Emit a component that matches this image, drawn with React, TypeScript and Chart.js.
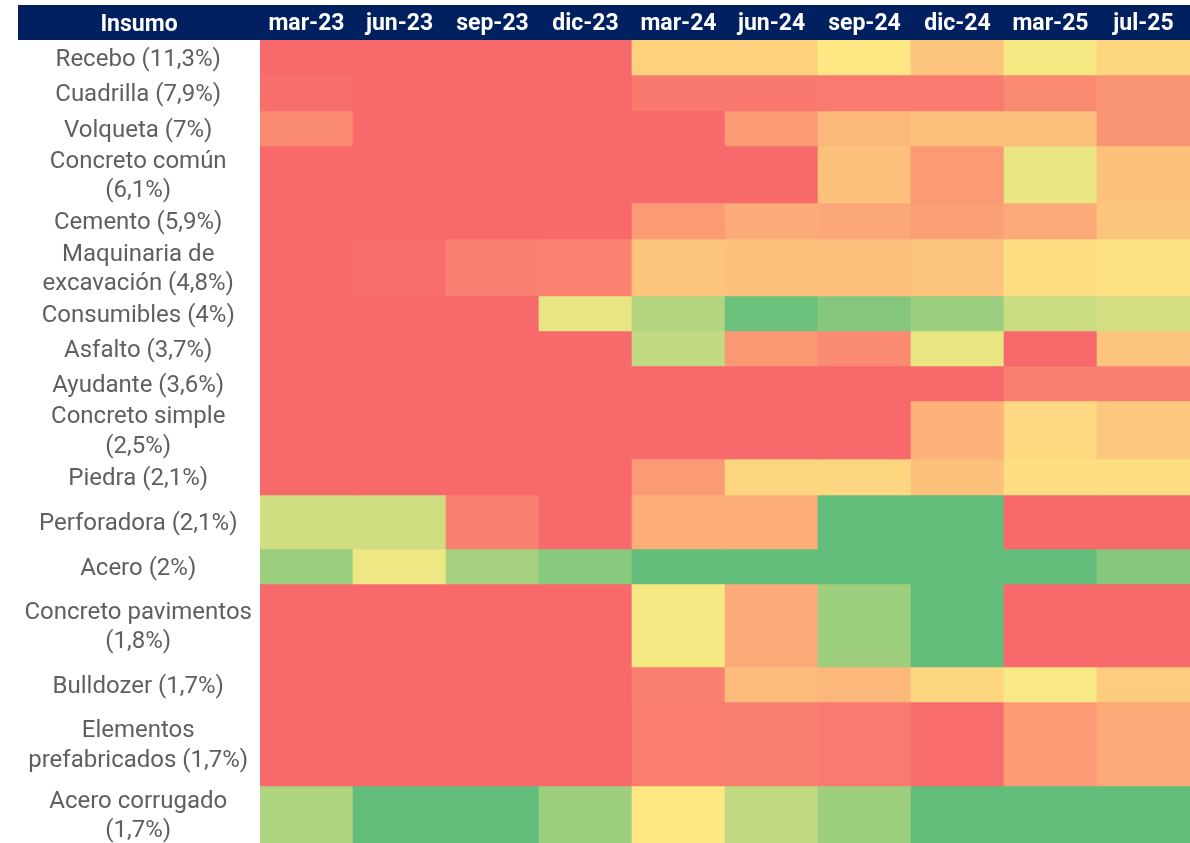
import { useEffect, useRef } from 'react';
import { Chart, registerables } from 'chart.js';

Chart.register(...registerables);

// ---- data ----
const periods = ['mar-23', 'jun-23', 'sep-23', 'dic-23', 'mar-24', 'jun-24', 'sep-24', 'dic-24', 'mar-25', 'jul-25'];

const insumos: string[][] = [
  ['Recebo (11,3%)'],
  ['Cuadrilla (7,9%)'],
  ['Volqueta (7%)'],
  ['Concreto común', '(6,1%)'],
  ['Cemento (5,9%)'],
  ['Maquinaria de', 'excavación (4,8%)'],
  ['Consumibles (4%)'],
  ['Asfalto (3,7%)'],
  ['Ayudante (3,6%)'],
  ['Concreto simple', '(2,5%)'],
  ['Piedra (2,1%)'],
  ['Perforadora (2,1%)'],
  ['Acero (2%)'],
  ['Concreto pavimentos', '(1,8%)'],
  ['Bulldozer (1,7%)'],
  ['Elementos', 'prefabricados (1,7%)'],
  ['Acero corrugado', '(1,7%)'],
];

// colour-scale position of each cell (0 = red, 50 = yellow, 100 = green)
const recebo = [0, 0, 0, 0, 40, 40, 49, 35, 53, 42];
const cuadrilla = [2, 0, 0, 0, 6, 6, 7, 7, 13, 17];
const volqueta = [13, 0, 0, 0, 0, 19, 30, 33, 33, 17];
const concretoComun = [0, 0, 0, 0, 0, 0, 34, 19, 57, 34];
const cemento = [0, 0, 0, 0, 19, 25, 24, 21, 25, 35];
const maquinaria = [0, 2, 9, 10, 35, 34, 33, 35, 45, 46];
const consumibles = [0, 0, 0, 57, 74, 97, 89, 82, 67, 64];
const asfalto = [0, 0, 0, 0, 70, 18, 13, 57, 0, 35];
const ayudante = [0, 0, 0, 0, 0, 0, 0, 0, 9, 9];
const concretoSimple = [0, 0, 0, 0, 0, 0, 0, 28, 43, 36];
const piedra = [0, 0, 0, 0, 19, 42, 42, 34, 45, 45];
const perforadora = [65, 65, 9, 0, 26, 26, 100, 100, 0, 0];
const acero = [82, 55, 79, 88, 100, 100, 100, 100, 100, 89];
const concretoPavimentos = [0, 0, 0, 0, 53, 25, 81, 100, 0, 0];
const bulldozer = [0, 0, 0, 0, 9, 31, 30, 42, 52, 38];
const elementos = [0, 0, 0, 0, 8, 9, 7, 1, 19, 25];
const aceroCorrugado = [76, 100, 100, 81, 49, 70, 81, 100, 100, 100];

const rowScores = [
  recebo, cuadrilla, volqueta, concretoComun, cemento, maquinaria, consumibles, asfalto,
  ayudante, concretoSimple, piedra, perforadora, acero, concretoPavimentos, bulldozer,
  elementos, aceroCorrugado,
];

// ---- layout (row heights in pixels) ----
const ROW_HEIGHTS = [35, 36, 35, 57, 36, 57, 35, 35, 35, 58, 36, 54, 35, 83, 35, 84, 57];
const LABEL_NUDGE = 2;

const RED = [248, 105, 107];
const YELLOW = [255, 235, 132];
const GREEN = [99, 190, 123];

function heat(score: number): string {
  const t = Math.max(0, Math.min(100, score)) / 100;
  const [a, b, u] = t <= 0.5 ? [RED, YELLOW, t / 0.5] : [YELLOW, GREEN, (t - 0.5) / 0.5];
  const c = a.map((v, i) => Math.round(v + (b[i] - v) * (u as number)));
  return `rgb(${c[0]},${c[1]},${c[2]})`;
}

const NAVY = '#002060';
const FONT = 'Roboto, "Noto Sans", sans-serif';

export default function App() {
  const ref = useRef<HTMLCanvasElement | null>(null);

  useEffect(() => {
    document.body.style.margin = '0';
    const canvas = ref.current;
    if (!canvas) return;

    const tops: number[] = [];
    let acc = 0;
    ROW_HEIGHTS.forEach((h) => {
      tops.push(acc);
      acc += h;
    });
    const total = acc;
    const centers = ROW_HEIGHTS.map((h, i) => tops[i] + h / 2 + LABEL_NUDGE);

    const datasets = rowScores.map((scores, r) => ({
      label: insumos[r].join(' '),
      data: periods.map(() => [tops[r], tops[r] + ROW_HEIGHTS[r]] as [number, number]),
      backgroundColor: scores.map(heat),
      borderWidth: 0,
      barPercentage: 1,
      categoryPercentage: 1,
      grouped: false,
    }));

    const headerPlugin = {
      id: 'header',
      beforeDraw(chart: any) {
        const { ctx } = chart;
        const xs = chart.scales.x;
        const ys = chart.scales.y;
        ctx.save();
        ctx.fillStyle = NAVY;
        ctx.fillRect(ys.left, xs.top, chart.width - ys.left, xs.bottom - xs.top);
        ctx.restore();
      },
      afterDraw(chart: any) {
        const { ctx } = chart;
        const xs = chart.scales.x;
        const ys = chart.scales.y;
        ctx.save();
        ctx.fillStyle = '#ffffff';
        ctx.font = `bold 23px ${FONT}`;
        ctx.textAlign = 'center';
        ctx.textBaseline = 'middle';
        ctx.fillText('Insumo', (ys.left + ys.right) / 2, (xs.top + xs.bottom) / 2 + 3);
        ctx.restore();
      },
    };

    const noPad = (scale: any) => {
      scale.paddingTop = 0;
      scale.paddingBottom = 0;
      scale.paddingLeft = 0;
      scale.paddingRight = 0;
    };

    const chart = new Chart(canvas, {
      type: 'bar',
      data: { labels: periods, datasets: datasets as any },
      options: {
        responsive: false,
        animation: false,
        layout: { padding: { top: 5, left: 18, right: 0, bottom: 0 } },
        plugins: {
          legend: { display: false },
          tooltip: { enabled: false },
        },
        scales: {
          x: {
            type: 'category',
            position: 'top',
            offset: true,
            grid: { display: false, drawTicks: false },
            border: { display: false },
            ticks: {
              color: '#ffffff',
              font: { family: FONT, size: 23, weight: 'bold' },
              padding: 2,
              autoSkip: false,
              maxRotation: 0,
            },
            afterFit(scale: any) {
              scale.height = 35;
              noPad(scale);
            },
          },
          y: {
            type: 'linear',
            reverse: true,
            min: 0,
            max: total,
            grid: { display: false, drawTicks: false },
            border: { display: false },
            ticks: {
              color: '#5f5f5f',
              font: { family: FONT, size: 24, lineHeight: 1.22 },
              crossAlign: 'center',
              padding: 8,
              autoSkip: false,
              callback: (_v: any, i: number) => insumos[i],
            },
            afterBuildTicks(scale: any) {
              scale.ticks = centers.map((value) => ({ value }));
            },
            afterFit(scale: any) {
              scale.width = 242;
              noPad(scale);
            },
          },
        },
      } as any,
      plugins: [headerPlugin],
    });

    return () => chart.destroy();
  }, []);

  return (
    <div style={{ width: 1190, height: 843 }}>
      <canvas ref={ref} width={1190} height={843} style={{ display: 'block' }} />
    </div>
  );
}
